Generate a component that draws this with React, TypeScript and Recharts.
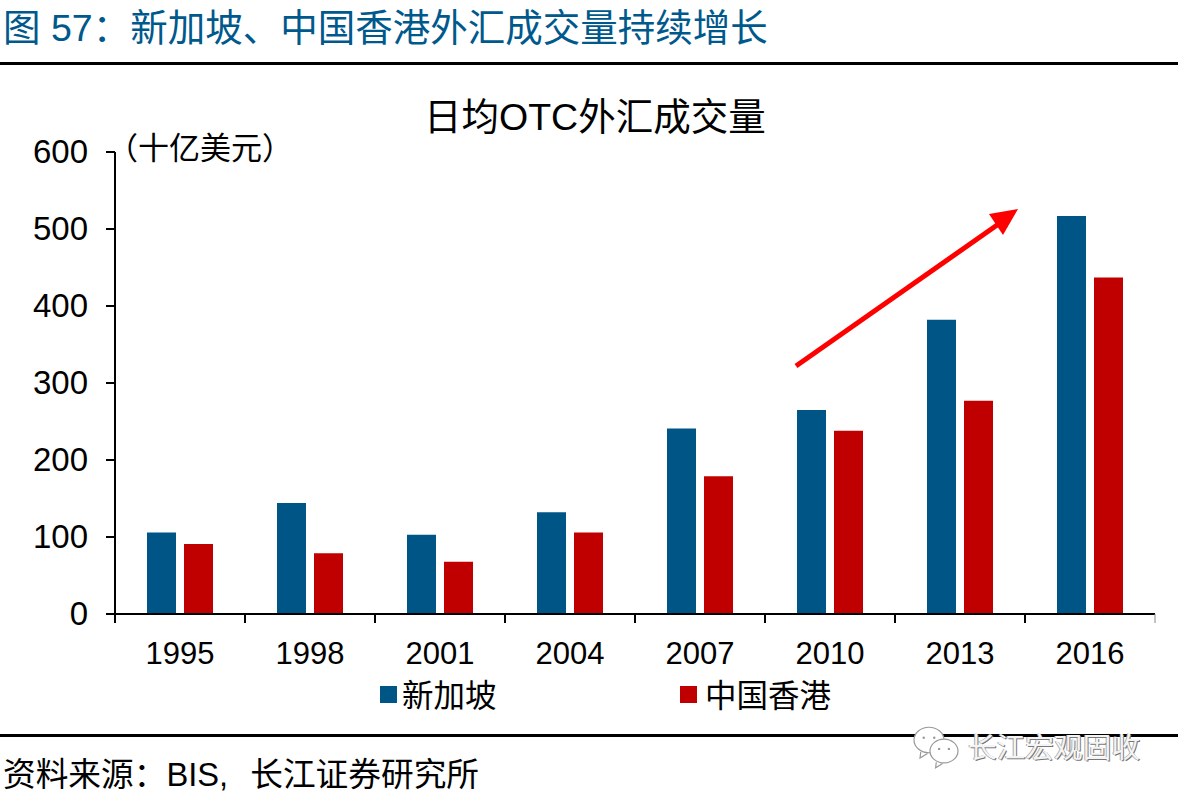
import React from "react";
import { BarChart, Bar, XAxis, YAxis, Customized } from "recharts";

const years = ["1995", "1998", "2001", "2004", "2007", "2010", "2013", "2016"];
const singapore = [106, 144, 103, 132, 241, 265, 382, 517];
const hongKong = [91, 79, 68, 106, 179, 238, 277, 437];
const yTicks = [0, 100, 200, 300, 400, 500, 600];

const BLUE = "#005587";
const RED = "#c00000";
const HEAD = "#00598c";
const FONT = "'Liberation Sans', 'Noto Sans CJK SC', sans-serif";
const HALF_BAND = 65;

const data = years.map((year, i) => ({ year, singapore: singapore[i], hongKong: hongKong[i] }));

// ticks sit on the category edges, not the centres
function XTick({ x, y, payload, index }: any) {
  return (
    <g>
      <line x1={x - HALF_BAND} y1={y} x2={x - HALF_BAND} y2={y + 9} stroke="#000" strokeWidth={2} />
      {index === years.length - 1 && (
        <line x1={x + HALF_BAND} y1={y} x2={x + HALF_BAND} y2={y + 9} stroke="#888" strokeWidth={1} />
      )}
      <text x={x} y={y + 50} textAnchor="middle" fontSize={31} fontFamily={FONT} fill="#000">
        {payload.value}
      </text>
    </g>
  );
}

function YTick({ x, y, payload }: any) {
  return (
    <g>
      <line x1={x - 9} y1={y} x2={x} y2={y} stroke="#000" strokeWidth={2} />
      <text x={x - 27} y={y + 11} textAnchor="end" fontSize={33} fontFamily={FONT} fill="#000">
        {payload.value}
      </text>
    </g>
  );
}

function Arrow() {
  return (
    <g>
      <line x1={796} y1={366} x2={1000} y2={223} stroke="#ff0000" strokeWidth={5} />
      <polygon points="1018,209 989,214 1003,235" fill="#ff0000" />
    </g>
  );
}

function Bubble({ cx, cy, r }: { cx: number; cy: number; r: number }) {
  return (
    <g fill="#fff" stroke="#999" strokeWidth={1.2}>
      <path d={`M${cx - r * 0.55} ${cy + r * 0.8} L${cx - r * 0.6} ${cy + r * 1.2} L${cx - r * 0.1} ${cy + r * 0.9}`} />
      <ellipse cx={cx} cy={cy} rx={r} ry={r * 0.85} />
      <circle cx={cx - r * 0.35} cy={cy - r * 0.15} r={1.2} fill="#999" stroke="none" />
      <circle cx={cx + r * 0.35} cy={cy - r * 0.15} r={1.2} fill="#999" stroke="none" />
    </g>
  );
}

const textAt = (left: number, top: number, size: number, line: number) =>
  ({ position: "absolute", left, top, fontSize: size, lineHeight: `${line}px`, whiteSpace: "nowrap", color: "#000" } as const);

export default function App() {
  return (
    <div style={{ position: "absolute", left: 0, top: 0, width: 1178, height: 800, background: "#fff", fontFamily: FONT, overflow: "hidden" }}>
      <div style={{ ...textAt(3, 6, 37.5, 44), color: HEAD }}>图 57：新加坡、中国香港外汇成交量持续增长</div>
      <div style={{ position: "absolute", left: 0, top: 62, width: 1178, height: 3, background: "#000" }} />
      <div style={textAt(424, 94, 37.5, 46)}>日均OTC外汇成交量</div>
      <div style={textAt(107, 129, 31, 40)}>（十亿美元）</div>

      <BarChart
        width={1178}
        height={680}
        data={data}
        barGap={8}
        margin={{ top: 152, right: 23, bottom: 1, left: 0 }}
        style={{ position: "absolute", left: 0, top: 0 }}
      >
        <XAxis
          dataKey="year"
          interval={0}
          tick={<XTick />}
          tickSize={0}
          tickMargin={0}
          tickLine={false}
          axisLine={{ stroke: "#000", strokeWidth: 2 }}
          height={65}
        />
        <YAxis
          width={115}
          domain={[0, 600]}
          ticks={yTicks}
          tick={<YTick />}
          tickSize={0}
          tickMargin={0}
          tickLine={false}
          axisLine={{ stroke: "#000", strokeWidth: 2 }}
        />
        <Bar dataKey="singapore" fill={BLUE} barSize={29} isAnimationActive={false} />
        <Bar dataKey="hongKong" fill={RED} barSize={29} isAnimationActive={false} />
        <Customized component={Arrow} />
      </BarChart>

      <div style={{ position: "absolute", left: 380, top: 686, width: 17, height: 17, background: BLUE }} />
      <div style={textAt(402, 676, 31.5, 40)}>新加坡</div>
      <div style={{ position: "absolute", left: 680, top: 686, width: 17, height: 17, background: RED }} />
      <div style={textAt(705, 676, 31.5, 40)}>中国香港</div>

      <div style={{ position: "absolute", left: 0, top: 734, width: 1178, height: 3, background: "#000" }} />
      <div style={textAt(3, 754, 32.7, 42)}>
        资料来源：BIS,<span style={{ marginLeft: 22 }}>长江证券研究所</span>
      </div>

      <svg width={50} height={44} style={{ position: "absolute", left: 911, top: 725 }}>
        <Bubble cx={18} cy={15} r={15} />
        <Bubble cx={33} cy={26} r={14} />
      </svg>
      <div style={{ ...textAt(968, 729, 28.7, 38), color: "#f4f4f4", textShadow: "1px 1px 0 #777, -1px 0 0 #aaa" }}>
        长江宏观固收
      </div>
    </div>
  );
}
